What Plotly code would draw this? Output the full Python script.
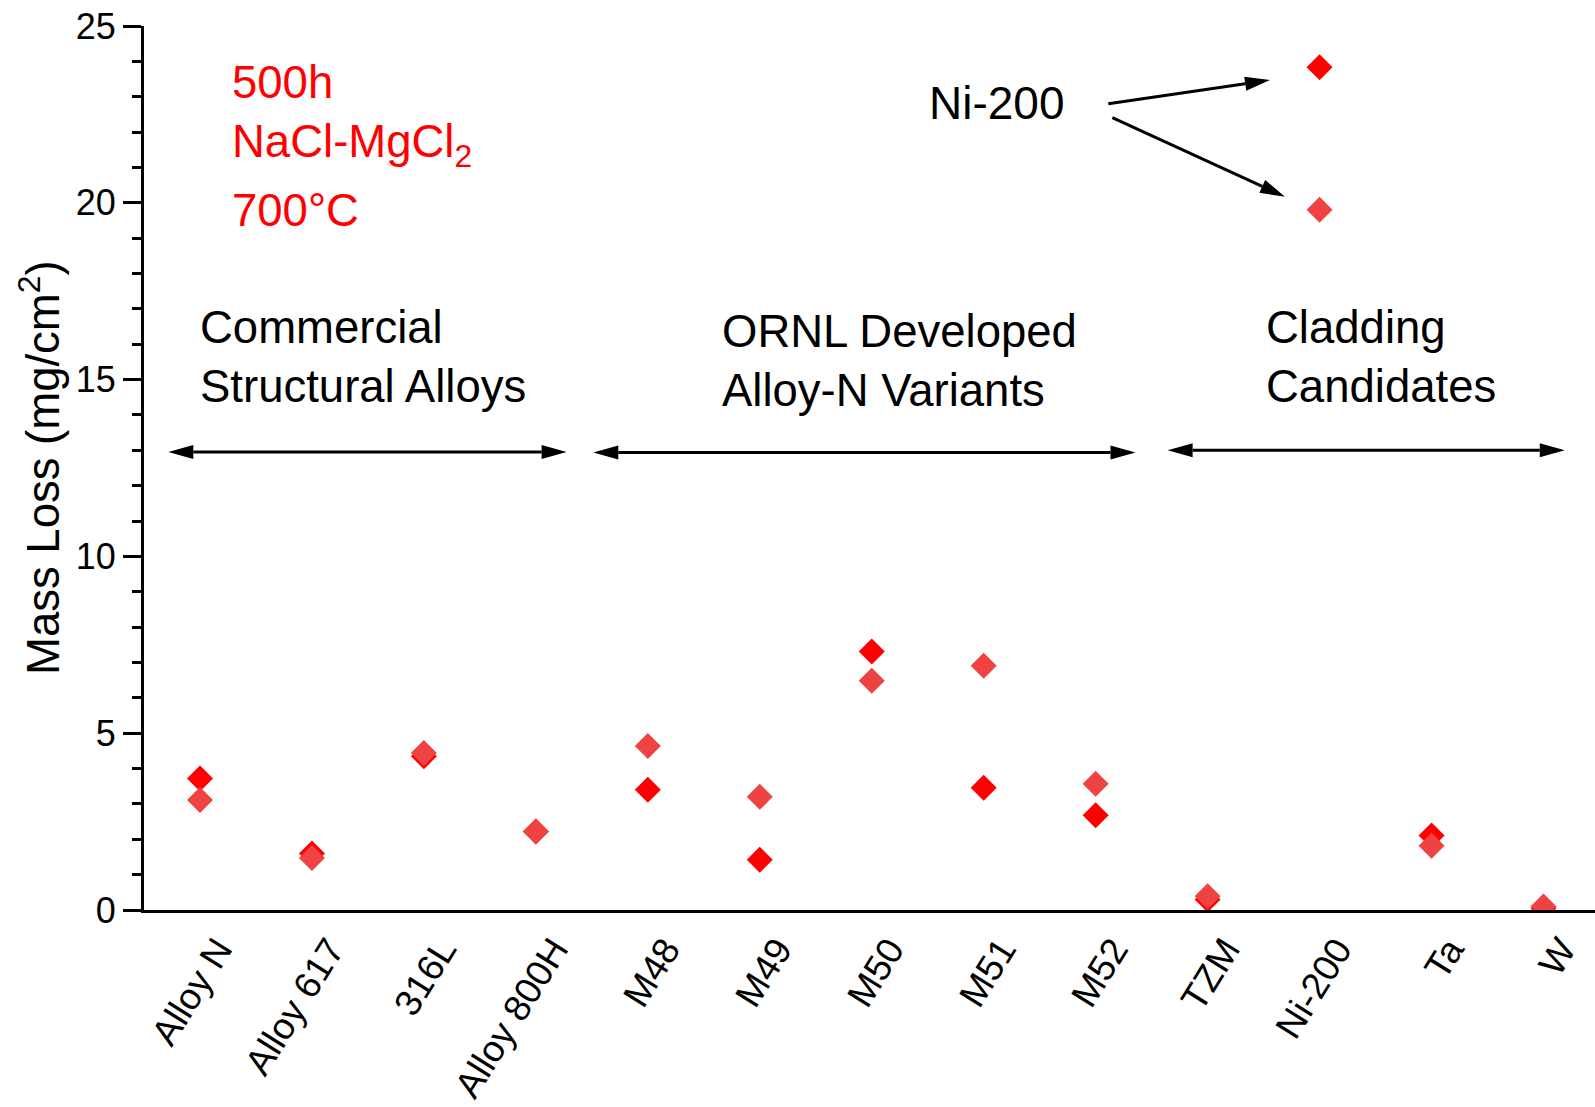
import plotly.graph_objects as go

# ---------------- data ----------------
categories = ["Alloy N", "Alloy 617", "316L", "Alloy 800H", "M48", "M49", "M50",
              "M51", "M52", "TZM", "Ni-200", "Ta", "W"]
loss_run1 = [3.72, 1.60, 4.35, 2.22, 3.40, 1.42, 7.31, 3.46, 2.68, 0.30, 23.83, 2.11, 0.05]
loss_run2 = [3.11, 1.47, 4.44, 2.22, 4.64, 3.20, 6.48, 6.91, 3.57, 0.39, 19.80, 1.82, 0.10]
y_ticks = [0, 5, 10, 15, 20, 25]

group_labels = ["Commercial<br>Structural Alloys", "ORNL Developed<br>Alloy-N Variants",
                "Cladding<br>Candidates"]
group_label_x = [-0.015, 4.648, 9.50]
group_label_y = [15.63, 15.53, 15.64]
group_span_start = [-0.283, 3.513, 8.643]
group_span_end = [3.275, 8.356, 12.19]
group_span_y = [12.95, 12.94, 13.0]

# ---------------- geometry ----------------
W, H = 1595, 1107
ML, MR, MT, MB = 144, 0, 26, 197
XR = [-0.5, 12.46]
YR = [0, 25]
PXX = (W - ML - MR) / (XR[1] - XR[0])
PXY = (H - MT - MB) / (YR[1] - YR[0])

FONT = "Liberation Sans, Arial, sans-serif"
DARK = "#FF0000"
LIGHT = "#EF4343"
BIG = 45.5

xs = list(range(len(categories)))

fig = go.Figure()
fig.add_trace(go.Scatter(x=xs, y=loss_run1, mode="markers", name="run 1",
                         marker=dict(symbol="diamond", size=20, color=DARK, line=dict(width=0)),
                         cliponaxis=True, showlegend=False))
fig.add_trace(go.Scatter(x=xs, y=loss_run2, mode="markers", name="run 2",
                         marker=dict(symbol="diamond", size=20, color=LIGHT, line=dict(width=0)),
                         cliponaxis=True, showlegend=False))

shapes = []


def arrow_head(tip_x, tip_y, from_x, from_y, length=25, half=7):
    dxp = (tip_x - from_x) * PXX
    dyp = -(tip_y - from_y) * PXY
    n = (dxp ** 2 + dyp ** 2) ** 0.5
    ux, uy = dxp / n, dyp / n
    bx, by = -ux * length, -uy * length
    px_, py_ = -uy * half, ux * half
    pts = [(0, 0), (bx + px_, by + py_), (bx - px_, by - py_)]
    path = "M " + " L ".join(f"{tip_x + p[0] / PXX},{tip_y - p[1] / PXY}" for p in pts) + " Z"
    base = (tip_x + bx / PXX, tip_y - by / PXY)
    return path, base


def add_arrow(x0, y0, x1, y1, both=False):
    path1, base1 = arrow_head(x1, y1, x0, y0)
    start = (x0, y0)
    if both:
        path0, base0 = arrow_head(x0, y0, x1, y1)
        shapes.append(dict(type="path", path=path0, xref="x", yref="y",
                           fillcolor="black", line=dict(width=0)))
        start = base0
    shapes.append(dict(type="line", x0=start[0], y0=start[1], x1=base1[0], y1=base1[1],
                       xref="x", yref="y", line=dict(color="black", width=3)))
    shapes.append(dict(type="path", path=path1, xref="x", yref="y",
                       fillcolor="black", line=dict(width=0)))


for a, b, yy in zip(group_span_start, group_span_end, group_span_y):
    add_arrow(a, yy, b, yy, both=True)

# Ni-200 pointer arrows
add_arrow(8.113, 22.80, 9.557, 23.47)
add_arrow(8.149, 22.41, 9.691, 20.17)

annotations = []
for txt, gx, gy in zip(group_labels, group_label_x, group_label_y):
    annotations.append(dict(x=gx, y=gy, xref="x", yref="y", text=txt, showarrow=False,
                            xanchor="left", yanchor="middle", align="left",
                            font=dict(family=FONT, size=BIG, color="black")))

annotations.append(dict(x=7.116, y=22.82, xref="x", yref="y", text="Ni-200", showarrow=False,
                        xanchor="center", yanchor="middle",
                        font=dict(family=FONT, size=46, color="black")))

annotations.append(dict(x=0.27, y=23.41, xref="x", yref="y", text="500h", showarrow=False,
                        xanchor="left", yanchor="middle",
                        font=dict(family=FONT, size=BIG, color=DARK)))
annotations.append(dict(x=0.27, y=22.51, xref="x", yref="y", text="NaCl-MgCl<sub>2</sub>",
                        showarrow=False, xanchor="left", yanchor="top",
                        font=dict(family=FONT, size=BIG, color=DARK)))
annotations.append(dict(x=0.27, y=19.77, xref="x", yref="y", text="700°C", showarrow=False,
                        xanchor="left", yanchor="middle",
                        font=dict(family=FONT, size=BIG, color=DARK)))

# y-axis title
annotations.append(dict(x=(40 - ML) / (W - ML - MR), y=0.5, xref="paper", yref="paper",
                        text="Mass Loss (mg/cm<sup>2</sup>)", textangle=-90, showarrow=False,
                        xanchor="center", yanchor="middle",
                        font=dict(family=FONT, size=45.5, color="black")))

fig.update_layout(
    width=W, height=H,
    margin=dict(l=ML, r=MR, t=MT, b=MB, pad=0),
    paper_bgcolor="white", plot_bgcolor="white",
    font=dict(family=FONT, color="black"),
    shapes=shapes, annotations=annotations,
    xaxis=dict(range=XR, tickvals=xs, ticktext=categories, tickangle=-58,
               ticks="", showline=True, linewidth=3, linecolor="black",
               showgrid=False, zeroline=False, ticklabelshift=18, automargin=False,
               tickfont=dict(family=FONT, size=37, color="black"),
               fixedrange=True),
    yaxis=dict(range=YR, tickvals=y_ticks, ticks="outside", ticklen=18, tickwidth=3,
               tickcolor="black", showline=True, linewidth=3, linecolor="black",
               showgrid=False, zeroline=False, automargin=False,
               tickfont=dict(family=FONT, size=36, color="black"),
               minor=dict(dtick=1, ticks="outside", ticklen=9, tickwidth=3, tickcolor="black",
                          showgrid=False),
               fixedrange=True),
)

fig.write_html("out.html")
